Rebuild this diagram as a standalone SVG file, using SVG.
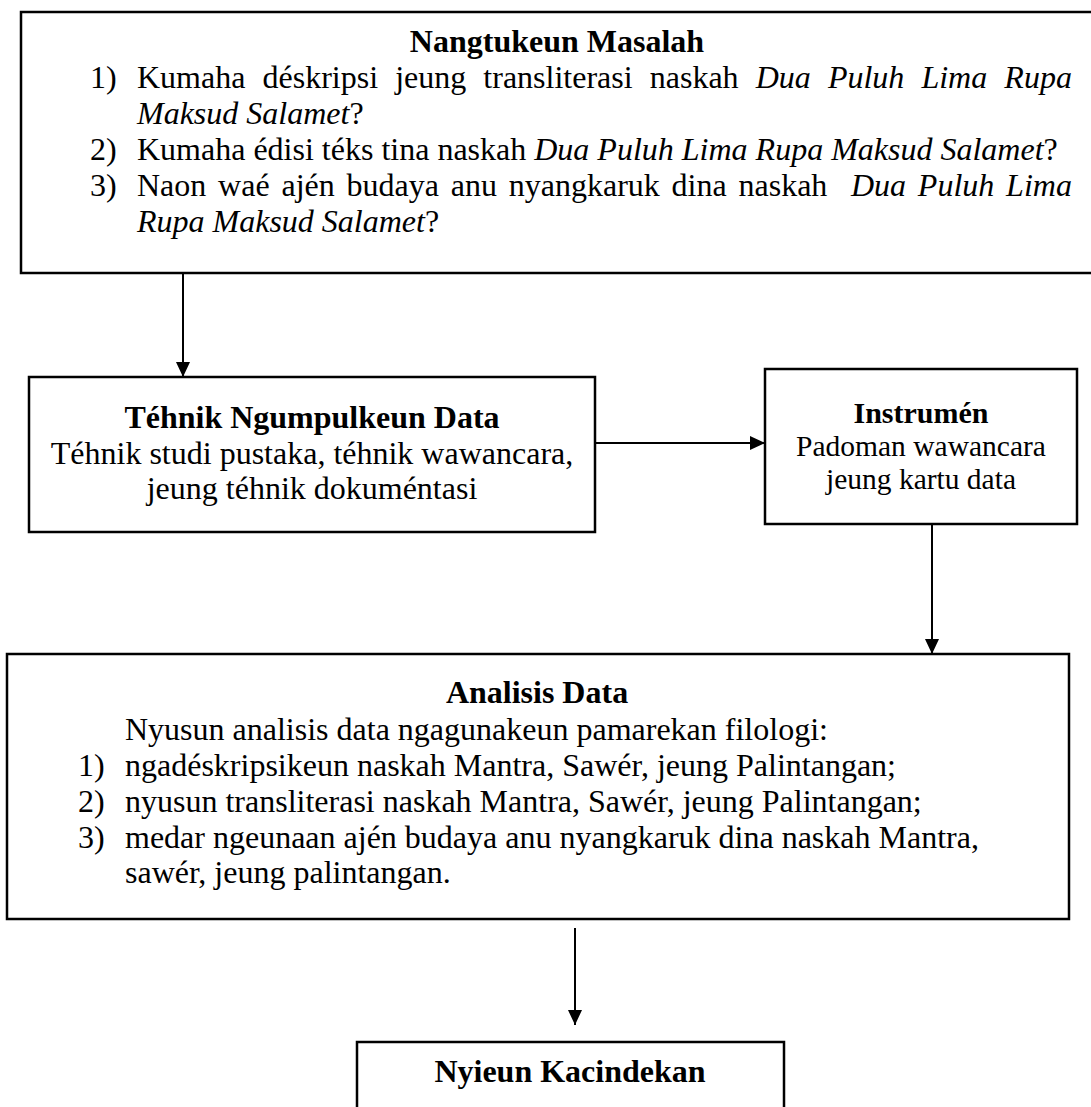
<svg xmlns="http://www.w3.org/2000/svg" width="1091" height="1107" viewBox="0 0 1091 1107">
<style>
.box{fill:#fff;stroke:#000;stroke-width:2.5}
.t{font-family:"Liberation Serif","Times New Roman",serif;fill:#000}
.b{font-weight:bold}
.i{font-style:italic}
.con{stroke:#000;stroke-width:2;fill:none}
</style>
<defs>
<marker id="ah" viewBox="0 0 15 14" refX="15" refY="7" markerWidth="15" markerHeight="14" markerUnits="userSpaceOnUse" orient="auto">
<path d="M0,0 L15,7 L0,14 Z" fill="#000"/>
</marker>
</defs>
<rect width="1091" height="1107" fill="#fff"/>

<g id="connectors">
<line class="con" x1="183" y1="273" x2="183" y2="377" marker-end="url(#ah)"/>
<line class="con" x1="595" y1="443" x2="765" y2="443" stroke-width="2.5" marker-end="url(#ah)"/>
<line class="con" x1="932" y1="524" x2="932" y2="654" marker-end="url(#ah)"/>
<line class="con" x1="575" y1="928" x2="575" y2="1025" marker-end="url(#ah)"/>
</g>

<g id="node-masalah">
<rect class="box" x="21" y="12" width="1085" height="261"/>
<text class="t b" x="557" y="52" font-size="32" text-anchor="middle">Nangtukeun Masalah</text>
<g class="t" font-size="32">
<text x="90" y="88">1)</text>
<text x="137" y="88" word-spacing="9.1">Kumaha déskripsi jeung transliterasi naskah <tspan class="i">Dua Puluh Lima Rupa</tspan></text>
<text x="137" y="124"><tspan class="i">Maksud Salamet</tspan>?</text>
<text x="90" y="160">2)</text>
<text x="137" y="160">Kumaha édisi téks tina naskah <tspan class="i">Dua Puluh Lima Rupa Maksud Salamet</tspan>?</text>
<text x="90" y="196">3)</text>
<text x="137" y="196" word-spacing="3.8" style="white-space:pre">Naon waé ajén budaya anu nyangkaruk dina naskah  <tspan class="i">Dua Puluh Lima</tspan></text>
<text x="137" y="232"><tspan class="i">Rupa Maksud Salamet</tspan>?</text>
</g>
</g>

<g id="node-tehnik">
<rect class="box" x="29" y="377" width="566" height="155"/>
<text class="t b" x="312" y="428" font-size="32" text-anchor="middle">Téhnik Ngumpulkeun Data</text>
<text class="t" x="312" y="464" font-size="32" text-anchor="middle">Téhnik studi pustaka, téhnik wawancara,</text>
<text class="t" x="312" y="499" font-size="32" text-anchor="middle">jeung téhnik dokuméntasi</text>
</g>

<g id="node-instrumen">
<rect class="box" x="765" y="369" width="312" height="155"/>
<text class="t b" x="921" y="423" font-size="30" text-anchor="middle">Instrumén</text>
<text class="t" x="921" y="456" font-size="29.5" text-anchor="middle">Padoman wawancara</text>
<text class="t" x="921" y="489" font-size="29.5" text-anchor="middle">jeung kartu data</text>
</g>

<g id="node-analisis">
<rect class="box" x="7" y="654" width="1062" height="265"/>
<text class="t b" x="537" y="703" font-size="32" text-anchor="middle">Analisis Data</text>
<g class="t" font-size="32">
<text x="125" y="740">Nyusun analisis data ngagunakeun pamarekan filologi:</text>
<text x="78" y="776">1)</text>
<text x="125" y="776">ngadéskripsikeun naskah Mantra, Sawér, jeung Palintangan;</text>
<text x="78" y="812">2)</text>
<text x="125" y="812">nyusun transliterasi naskah Mantra, Sawér, jeung Palintangan;</text>
<text x="78" y="848">3)</text>
<text x="125" y="848">medar ngeunaan ajén budaya anu nyangkaruk dina naskah Mantra,</text>
<text x="125" y="883">sawér, jeung palintangan.</text>
</g>
</g>

<g id="node-kacindekan">
<rect class="box" x="357" y="1042" width="427" height="80"/>
<text class="t b" x="570" y="1082" font-size="32" text-anchor="middle">Nyieun Kacindekan</text>
</g>
</svg>
